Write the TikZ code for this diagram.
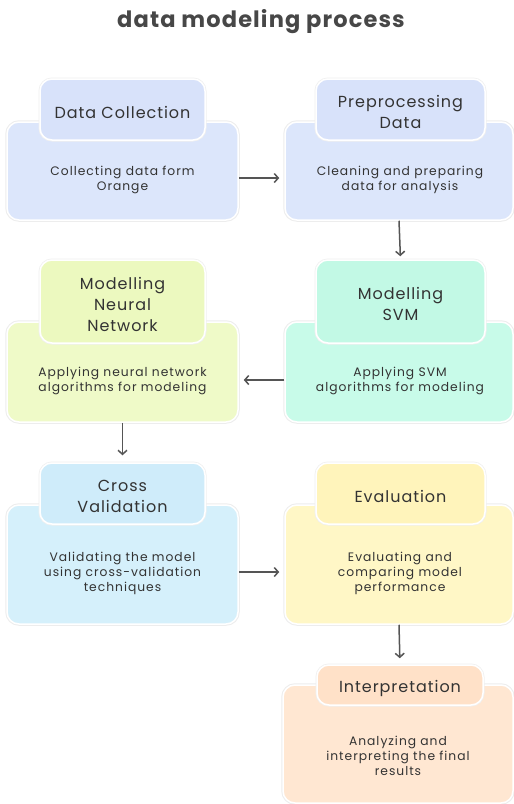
\documentclass[tikz,border=0pt]{standalone}
\usepackage{fontspec}
\setmainfont{Poppins}
\newfontfamily\titlefont[LetterSpace=5]{Poppins}
\newfontfamily\headfont[LetterSpace=6]{Poppins}
\newfontfamily\bodyfont[LetterSpace=8]{Poppins}
\usetikzlibrary{arrows.meta}
\definecolor{txt}{HTML}{333333}
\definecolor{arrowc}{HTML}{555555}
\definecolor{cblue}{HTML}{DCE6FB}
\definecolor{cblueh}{HTML}{D8E2FA}
\definecolor{clime}{HTML}{EFFAC8}
\definecolor{climeh}{HTML}{ECF9BF}
\definecolor{cmint}{HTML}{C8FBE9}
\definecolor{cminth}{HTML}{C2F9E5}
\definecolor{ccyan}{HTML}{D5F0FB}
\definecolor{ccyanh}{HTML}{CFECFA}
\definecolor{cyel}{HTML}{FFF7C6}
\definecolor{cyelh}{HTML}{FFF4BB}
\definecolor{cpeach}{HTML}{FFE7D2}
\definecolor{cpeachh}{HTML}{FFE1C8}
\tikzset{
  bodybox/.style={rounded corners=12pt, draw=white, line width=1.5pt,
    preaction={draw=black!7, line width=3.5pt}, inner sep=0pt},
  headbox/.style={rounded corners=12pt, draw=white, line width=1.5pt,
    preaction={draw=black!6, line width=3pt}, inner sep=0pt},
  headtxt/.style={font=\headfont\fontsize{16}{21}\selectfont, text=txt, align=center},
  bodytxt/.style={font=\bodyfont\fontsize{12.3}{15}\selectfont, text=txt, align=center},
  arr/.style={draw=arrowc, line width=1.5pt, -{Straight Barb[length=4pt,width=9pt]}},
}
\begin{document}
\begin{tikzpicture}[x=1pt,y=-1pt]
\useasboundingbox[fill=white] (0,0) rectangle (514,804);
\node[font=\titlefont\bfseries\fontsize{22.5}{24}\selectfont, text=black!72] (title) at (261,22) {data modeling process};

% Row 1
\node[bodybox, fill=cblue, minimum width=231pt, minimum height=98pt] (dc) at (122.5,171) {};
\node[headbox, fill=cblueh, minimum width=165pt, minimum height=61pt] (dch) at (122.5,109.5) {};
\node[headtxt] (dcht) at (122.5,112) {Data Collection};
\node[bodytxt] (dcbt) at (122.5,179.5) {Collecting data form\\Orange};

\node[bodybox, fill=cblue, minimum width=228pt, minimum height=98pt] (pp) at (399,171) {};
\node[headbox, fill=cblueh, minimum width=169pt, minimum height=61pt] (pph) at (400.5,109.5) {};
\node[headtxt] (ppht) at (400.5,112) {Preprocessing\\Data};
\node[bodytxt] (ppbt) at (400,179.5) {Cleaning and preparing\\data for analysis};

% Row 2
\node[bodybox, fill=clime, minimum width=231pt, minimum height=100pt] (nn) at (122.5,372) {};
\node[headbox, fill=climeh, minimum width=165pt, minimum height=83pt] (nnh) at (122.5,301.5) {};
\node[headtxt] (nnht) at (122.5,304) {Modelling\\Neural\\Network};
\node[bodytxt] (nnbt) at (122.5,381) {Applying neural network\\algorithms for modeling};

\node[bodybox, fill=cmint, minimum width=228pt, minimum height=100pt] (svm) at (399,372) {};
\node[headbox, fill=cminth, minimum width=169pt, minimum height=83pt] (svmh) at (400.5,301.5) {};
\node[headtxt] (svmht) at (400.5,304) {Modelling\\SVM};
\node[bodytxt] (svmbt) at (400,381) {Applying SVM\\algorithms for modeling};

% Row 3
\node[bodybox, fill=ccyan, minimum width=231pt, minimum height=119pt] (cv) at (122.5,564.5) {};
\node[headbox, fill=ccyanh, minimum width=165pt, minimum height=61pt] (cvh) at (122.5,493.5) {};
\node[headtxt] (cvht) at (122.5,496.5) {Cross\\Validation};
\node[bodytxt] (cvbt) at (122.5,573.5) {Validating the model\\using cross-validation\\techniques};

\node[bodybox, fill=cyel, minimum width=228pt, minimum height=119pt] (ev) at (399,564.5) {};
\node[headbox, fill=cyelh, minimum width=169pt, minimum height=61pt] (evh) at (400.5,493.5) {};
\node[headtxt] (evht) at (400.5,496.5) {Evaluation};
\node[bodytxt] (evbt) at (400,573.5) {Evaluating and\\comparing model\\performance};

% Row 4
\node[bodybox, fill=cpeach, minimum width=230pt, minimum height=118pt] (in) at (398,744) {};
\node[headbox, fill=cpeachh, minimum width=166pt, minimum height=40pt] (inh) at (400,685) {};
\node[headtxt] (inht) at (400,688) {Interpretation};
\node[bodytxt] (inbt) at (398,755.5) {Analyzing and\\interpreting the final\\results};

% Connectors
\draw[arr, shorten >=5pt] ([yshift=-7pt]dc.east) -- ([yshift=-7pt]pp.west);
\draw[arr, shorten >=3pt] (pp.south) -- (svmh.north);
\draw[arr, shorten >=5pt] ([yshift=-8pt]svm.west) -- ([yshift=-8pt]nn.east);
\draw[arr, shorten >=7pt] (nn.south) -- (cvh.north);
\draw[arr, shorten >=5pt] ([yshift=-7.5pt]cv.east) -- ([yshift=-7.5pt]ev.west);
\draw[arr, shorten >=6pt] (ev.south) -- (inh.north);
\end{tikzpicture}
\end{document}
